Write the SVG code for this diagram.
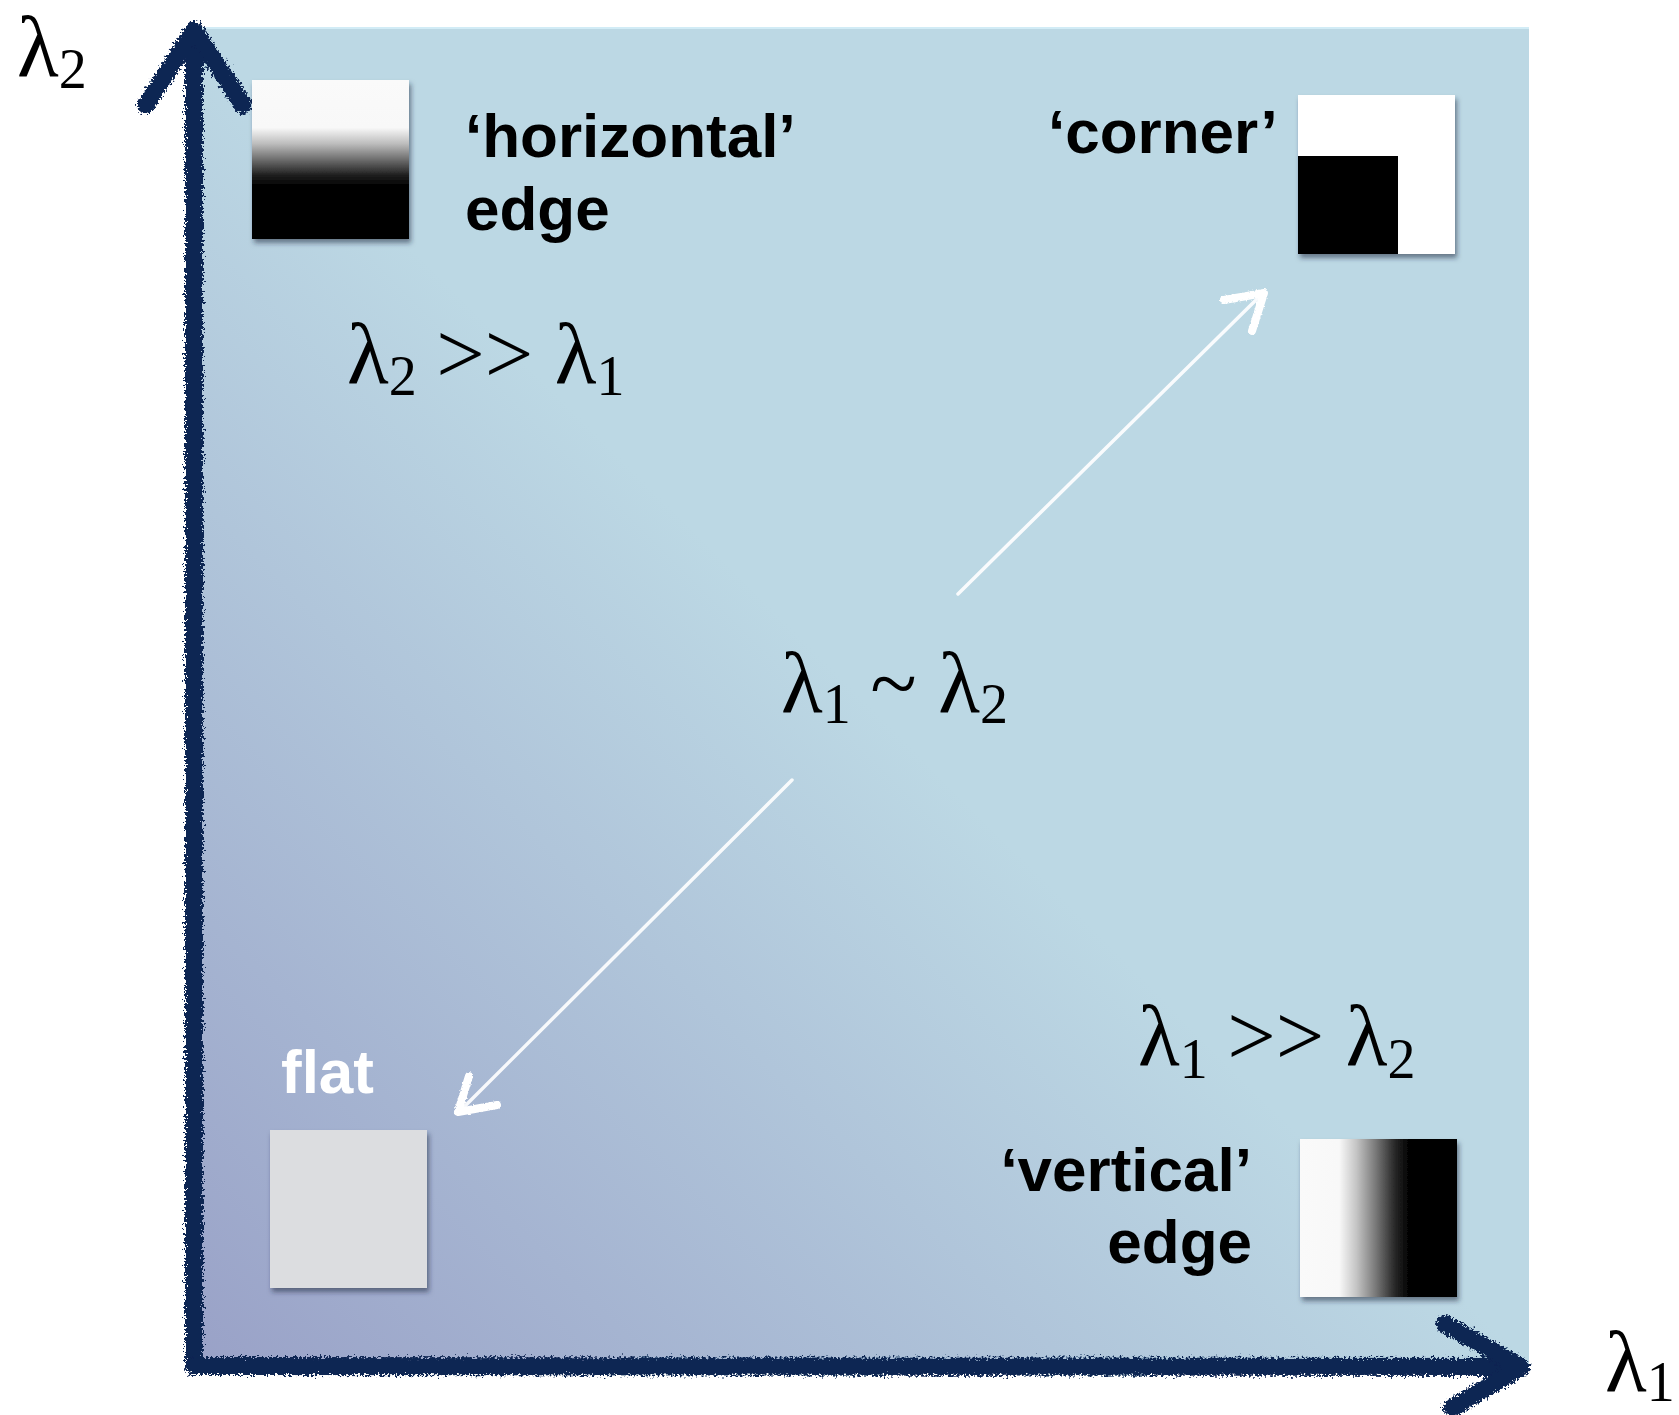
<svg xmlns="http://www.w3.org/2000/svg" width="1679" height="1415" viewBox="0 0 1679 1415">
<style>
.lbl{font-family:"Liberation Sans",Arial,sans-serif;font-weight:bold;font-size:62px;fill:#000}
.math{font-family:"Liberation Serif","Times New Roman",serif;font-size:86px;fill:#000}
.sub{font-size:56px}
.axis{fill:none;stroke:#0b2552;stroke-width:18;stroke-linecap:round;stroke-linejoin:round}
.conn{fill:none;stroke:#ffffff;stroke-linecap:round;stroke-linejoin:round}
</style>
<defs>
<linearGradient id="bg" x1="193" y1="1366" x2="1529" y2="27" gradientUnits="userSpaceOnUse">
<stop offset="0" stop-color="#99a1c7"/>
<stop offset="0.5" stop-color="#bcd8e4"/>
<stop offset="1" stop-color="#bcd8e4"/>
</linearGradient>
<linearGradient id="hgrad" x1="0" y1="0" x2="0" y2="1">
<stop offset="0" stop-color="#fafafa"/>
<stop offset="0.3" stop-color="#f8f8f8"/>
<stop offset="0.4" stop-color="#bdbdbd"/>
<stop offset="0.5" stop-color="#6e6e6e"/>
<stop offset="0.6" stop-color="#1e1e1e"/>
<stop offset="0.67" stop-color="#000"/>
<stop offset="1" stop-color="#000"/>
</linearGradient>
<linearGradient id="vgrad" x1="0" y1="0" x2="1" y2="0">
<stop offset="0" stop-color="#fafafa"/>
<stop offset="0.25" stop-color="#f8f8f8"/>
<stop offset="0.36" stop-color="#c4c4c4"/>
<stop offset="0.48" stop-color="#7a7a7a"/>
<stop offset="0.6" stop-color="#2a2a2a"/>
<stop offset="0.7" stop-color="#000"/>
<stop offset="1" stop-color="#000"/>
</linearGradient>
<filter id="shadow" x="-10%" y="-10%" width="130%" height="130%">
<feDropShadow dx="2" dy="4" stdDeviation="2.5" flood-color="#1a2a40" flood-opacity="0.55"/>
</filter>
<filter id="rough" filterUnits="userSpaceOnUse" x="0" y="0" width="1679" height="1415">
<feTurbulence type="fractalNoise" baseFrequency="0.45" numOctaves="3" seed="3" result="n"/>
<feDisplacementMap in="SourceGraphic" in2="n" scale="10" xChannelSelector="R" yChannelSelector="G"/>
</filter>
<filter id="roughw" filterUnits="userSpaceOnUse" x="0" y="0" width="1679" height="1415">
<feTurbulence type="fractalNoise" baseFrequency="0.5" numOctaves="2" seed="7" result="n"/>
<feDisplacementMap in="SourceGraphic" in2="n" scale="3" xChannelSelector="R" yChannelSelector="G"/>
</filter>
</defs>

<g id="background">
<rect x="193" y="27" width="1336" height="1340" fill="url(#bg)"/>
<line x1="193" y1="28" x2="1529" y2="28" stroke="#d2ecf6" stroke-width="2"/>
</g>

<g id="axes" filter="url(#rough)">
<path class="axis" d="M194 1366 L194 32"/>
<path class="axis" d="M146 105 L194 30 L243 105"/>
<path class="axis" d="M194 1366 L1520 1367"/>
<path class="axis" d="M1445 1324 L1521 1367 L1452 1408"/>
</g>

<g id="axis-labels">
<text class="math" x="17" y="76">λ<tspan class="sub" dy="12">2</tspan></text>
<text class="math" x="1605" y="1391">λ<tspan class="sub" dy="10">1</tspan></text>
</g>

<g id="connectors">
<g id="arrow-corner">
<line class="conn" x1="958" y1="594" x2="1258" y2="298" stroke-width="3.5" stroke-opacity="0.9"/>
<path class="conn" d="M1224 300 L1264 293 L1252 331" stroke-width="8" filter="url(#roughw)"/>
</g>
<g id="arrow-flat">
<line class="conn" x1="792" y1="780" x2="464" y2="1107" stroke-width="3.5" stroke-opacity="0.9"/>
<path class="conn" d="M469 1076 L458 1112 L497 1105" stroke-width="8" filter="url(#roughw)"/>
</g>
</g>

<g id="node-horizontal">
<rect x="252" y="80" width="157" height="159" fill="url(#hgrad)" filter="url(#shadow)"/>
<text class="lbl" x="465" y="157">‘horizontal’</text>
<text class="lbl" x="465" y="230">edge</text>
</g>

<g id="node-corner">
<g filter="url(#shadow)">
<rect x="1298" y="95" width="157" height="159" fill="#ffffff"/>
<rect x="1298" y="156" width="100" height="98" fill="#000"/>
</g>
<text class="lbl" x="1048" y="153">‘corner’</text>
</g>

<g id="node-flat">
<rect x="270" y="1130" width="157" height="158" fill="#dcdde0" filter="url(#shadow)"/>
<text class="lbl" x="281" y="1093" style="fill:#ffffff">flat</text>
</g>

<g id="node-vertical">
<rect x="1300" y="1139" width="157" height="158" fill="url(#vgrad)" filter="url(#shadow)"/>
<text class="lbl" x="1252" y="1191" text-anchor="end">‘vertical’</text>
<text class="lbl" x="1252" y="1263" text-anchor="end">edge</text>
</g>

<g id="region-labels">
<text class="math" x="347" y="383">λ<tspan class="sub" dy="12">2</tspan><tspan dy="-12" dx="-2"> &gt;&gt; λ</tspan><tspan class="sub" dy="12">1</tspan></text>
<text class="math" x="781" y="712">λ<tspan class="sub" dy="11">1</tspan><tspan dy="-11" dx="-2"> ~ λ</tspan><tspan class="sub" dy="11">2</tspan></text>
<text class="math" x="1138" y="1065">λ<tspan class="sub" dy="13">1</tspan><tspan dy="-13" dx="-2"> &gt;&gt; λ</tspan><tspan class="sub" dy="13">2</tspan></text>
</g>
</svg>
